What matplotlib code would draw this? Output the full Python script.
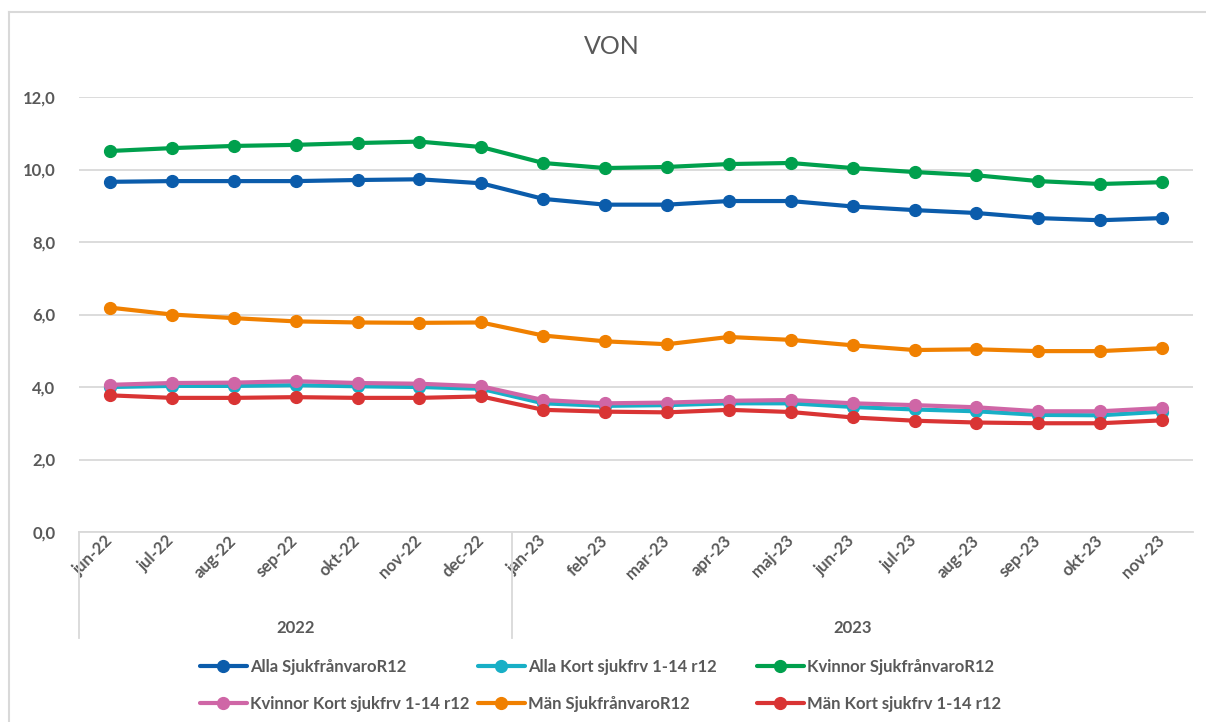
import matplotlib
matplotlib.use("Agg")
import matplotlib.pyplot as plt
from matplotlib.lines import Line2D
from matplotlib.ticker import FuncFormatter

plt.rcParams['font.family'] = ['Lato', 'DejaVu Sans']

months = ['jun-22', 'jul-22', 'aug-22', 'sep-22', 'okt-22', 'nov-22', 'dec-22',
          'jan-23', 'feb-23', 'mar-23', 'apr-23', 'maj-23', 'jun-23', 'jul-23',
          'aug-23', 'sep-23', 'okt-23', 'nov-23']
years = ['2022', '2023']
year_counts = [7, 11]

alla = [9.66, 9.68, 9.68, 9.68, 9.71, 9.73, 9.62, 9.19, 9.03, 9.03,
        9.13, 9.13, 8.98, 8.88, 8.80, 8.66, 8.60, 8.66]
alla_kort = [4.00, 4.03, 4.03, 4.05, 4.02, 4.00, 3.95, 3.55, 3.48, 3.50,
             3.55, 3.55, 3.45, 3.38, 3.33, 3.23, 3.22, 3.32]
kvinnor = [10.51, 10.59, 10.65, 10.68, 10.73, 10.77, 10.62, 10.18, 10.04, 10.07,
           10.15, 10.18, 10.04, 9.93, 9.84, 9.68, 9.60, 9.65]
kvinnor_kort = [4.06, 4.11, 4.12, 4.16, 4.11, 4.09, 4.02, 3.64, 3.55, 3.57,
                3.62, 3.64, 3.55, 3.50, 3.44, 3.33, 3.33, 3.42]
man = [6.19, 6.00, 5.90, 5.81, 5.78, 5.77, 5.78, 5.42, 5.26, 5.18,
       5.38, 5.30, 5.15, 5.02, 5.04, 4.99, 4.99, 5.07]
man_kort = [3.77, 3.70, 3.70, 3.72, 3.70, 3.70, 3.74, 3.37, 3.32, 3.30,
            3.37, 3.31, 3.16, 3.07, 3.02, 3.00, 3.00, 3.08]

series = [
    ('Alla SjukfrånvaroR12', alla, '#0b5cab'),
    ('Alla Kort sjukfrv 1-14 r12', alla_kort, '#18afc6'),
    ('Kvinnor SjukfrånvaroR12', kvinnor, '#00a04d'),
    ('Kvinnor Kort sjukfrv 1-14 r12', kvinnor_kort, '#cf66a6'),
    ('Män SjukfrånvaroR12', man, '#f08000'),
    ('Män Kort sjukfrv 1-14 r12', man_kort, '#d93434'),
]

grey = '#595959'
grid_c = '#d9d9d9'

W, H = 1206, 722
fig = plt.figure(figsize=(W / 100, H / 100), dpi=100)
ax = fig.add_axes([79 / W, 1 - 532 / H, 1114 / W, 435 / H])

x = list(range(len(months)))
handles = []
for name, vals, col in series:
    h, = ax.plot(x, vals, color=col, lw=3.0, marker='o', ms=8.5,
                 label=name, solid_capstyle='round', clip_on=False)
    handles.append(h)

ax.set_xlim(-0.5, len(months) - 0.5)
ax.set_ylim(0, 12)
ax.set_yticks([0, 2, 4, 6, 8, 10, 12])
ax.yaxis.set_major_formatter(FuncFormatter(lambda v, p: f"{v:.1f}".replace('.', ',')))
ax.grid(axis='y', color=grid_c, lw=1.3)
ax.set_axisbelow(True)
for s in ['top', 'right', 'left']:
    ax.spines[s].set_visible(False)
ax.spines['bottom'].set_color(grid_c)
ax.spines['bottom'].set_linewidth(1.3)
ax.tick_params(axis='y', length=0, pad=17, labelsize=12, labelcolor=grey)
ax.tick_params(axis='x', length=0, pad=6, labelsize=12, labelcolor=grey)
for lab in ax.get_yticklabels():
    lab.set_fontweight('bold')

ax.set_xticks(x)
ax.set_xticklabels(months, rotation=45, ha='right', va='center',
                   rotation_mode='anchor', fontweight='bold')
for lab in ax.get_xticklabels():
    lab.set_y(0.005)

# multi-level category axis
sep_bottom = -(638 - 532) / 435
start = -0.5
tr = ax.get_xaxis_transform()
ax.plot([start, start], [0, sep_bottom], color=grid_c, lw=1.3, transform=tr, clip_on=False)
for yr, n in zip(years, year_counts):
    end = start + n
    ax.text((start + end) / 2, -(628 - 532) / 435, yr, transform=tr, ha='center',
            va='center', fontsize=12, fontweight='bold', color=grey)
    if end < len(months) - 0.5:
        ax.plot([end, end], [0, sep_bottom], color=grid_c, lw=1.3, transform=tr, clip_on=False)
    start = end

fig.text(612 / W, 1 - 47 / H, 'VON', ha='center', va='center', fontsize=18, color=grey)

# outer chart border
fig.add_artist(Line2D([9 / W, 9 / W], [0, 1 - 12 / H], color=grid_c, lw=1.5))
fig.add_artist(Line2D([9 / W, 1], [1 - 12 / H, 1 - 12 / H], color=grid_c, lw=1.5))

# legend, 3 columns x 2 rows, row-major as in the original
cols_x = [200, 478, 757]
for i, cx in enumerate(cols_x):
    fig.legend([handles[i], handles[i + 3]],
               [series[i][0], series[i + 3][0]],
               loc='upper left', bbox_to_anchor=(cx / W, 1 - 659 / H),
               frameon=False, borderpad=0, borderaxespad=0,
               handlelength=2.8, handletextpad=0.2, labelspacing=1.25,
               prop={'size': 12, 'weight': 'bold'}, labelcolor=grey)

fig.savefig('out.png', dpi=100)
